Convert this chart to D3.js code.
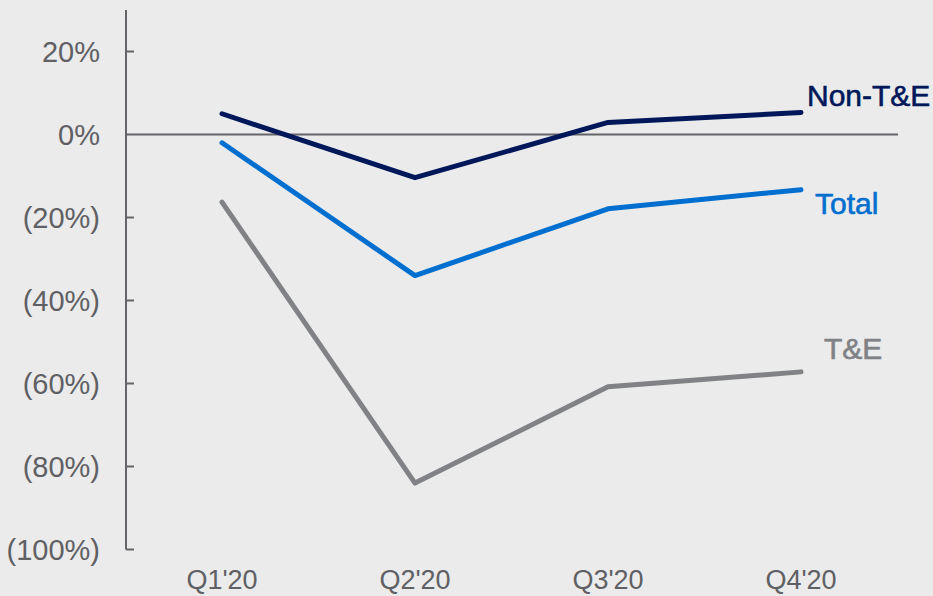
<!DOCTYPE html>
<html>
<head>
<meta charset="utf-8">
<script src="https://cdn.jsdelivr.net/npm/d3@7"></script>
<style>
  html, body { margin: 0; padding: 0; background: #ebebeb; }
  svg { display: block; font-family: "Liberation Sans", Arial, sans-serif; }
</style>
</head>
<body>
<svg id="chart" width="933" height="596"></svg>
<script>
// Quarterly spend growth, 2020 vs prior year (%)
const quarters = ["Q1'20", "Q2'20", "Q3'20", "Q4'20"];
const nonTE = [5.0, -10.4, 2.9, 5.3];
const total = [-2.0, -34.0, -17.9, -13.3];
const tAndE = [-16.3, -84.0, -60.8, -57.2];
const yTicks = [20, 0, -20, -40, -60, -80, -100];

const series = [
  { name: "Non-T&E", values: nonTE, color: "#00175a", dx: 6, dy: -7 },
  { name: "Total", values: total, color: "#006fcf", dx: 14, dy: 24 },
  { name: "T&E", values: tAndE, color: "#808285", dx: 23, dy: -13 }
];

const svg = d3.select("#chart");
const axisX = 126, zeroEnd = 898;

const x = d3.scalePoint().domain(quarters).range([222, 801]);
const y = d3.scaleLinear().domain([-100, 30]).range([549.5, 10]);

const fmt = v => v < 0 ? `(${Math.abs(v)}%)` : `${v}%`;

// vertical axis with inward ticks
const yAxis = svg.append("g").attr("transform", `translate(${axisX},0)`);
yAxis.append("line")
  .attr("x1", 0).attr("x2", 0)
  .attr("y1", y(30)).attr("y2", y(-100))
  .attr("stroke", "#646569").attr("stroke-width", 2);
yAxis.selectAll(".tick")
  .data(yTicks.filter(t => t !== 0))
  .join("line")
  .attr("x1", 0).attr("x2", 8)
  .attr("y1", d => y(d)).attr("y2", d => y(d))
  .attr("stroke", "#646569").attr("stroke-width", 2);
yAxis.selectAll("text")
  .data(yTicks)
  .join("text")
  .attr("x", -26)
  .attr("y", d => y(d) + 10)
  .attr("text-anchor", "end")
  .attr("font-size", 29)
  .attr("fill", "#5f6064")
  .text(fmt);

// zero baseline
svg.append("line")
  .attr("x1", axisX).attr("x2", zeroEnd)
  .attr("y1", y(0)).attr("y2", y(0))
  .attr("stroke", "#646569").attr("stroke-width", 2);

// quarter labels
svg.append("g").selectAll("text")
  .data(quarters)
  .join("text")
  .attr("x", d => x(d))
  .attr("y", 589)
  .attr("text-anchor", "middle")
  .attr("font-size", 27)
  .attr("fill", "#5f6064")
  .text(d => d);

// series lines
const line = d3.line()
  .x((d, i) => x(quarters[i]))
  .y(d => y(d));

svg.append("g").selectAll("path")
  .data(series)
  .join("path")
  .attr("d", s => line(s.values))
  .attr("fill", "none")
  .attr("stroke", s => s.color)
  .attr("stroke-width", 5)
  .attr("stroke-linecap", "round")
  .attr("stroke-linejoin", "round");

// end-of-line labels (slightly heavier than regular weight)
svg.append("g").selectAll("text")
  .data(series)
  .join("text")
  .attr("x", s => x(quarters[quarters.length - 1]) + s.dx)
  .attr("y", s => y(s.values[s.values.length - 1]) + s.dy)
  .attr("font-size", 30)
  .attr("fill", s => s.color)
  .attr("stroke", s => s.color)
  .attr("stroke-width", 0.6)
  .text(s => s.name);
</script>
</body>
</html>
